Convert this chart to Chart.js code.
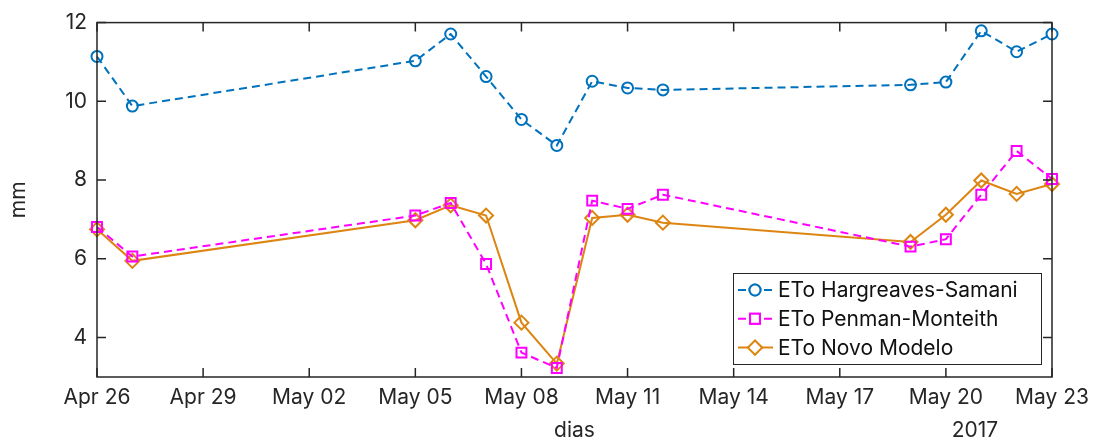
<!DOCTYPE html>
<html>
<head>
<meta charset="utf-8">
<script src="https://cdn.jsdelivr.net/npm/chart.js@4"></script>
<style>
  html, body { margin: 0; padding: 0; background: #fff; }
  #wrap { width: 1099px; height: 439px; }
</style>
</head>
<body>
<div id="wrap"><canvas id="c" width="1099" height="439"></canvas></div>
<script>
// dates of the measurements (2017)
const dias = ['2017-04-26', '2017-04-27', '2017-05-05', '2017-05-06', '2017-05-07', '2017-05-08',
  '2017-05-09', '2017-05-10', '2017-05-11', '2017-05-12', '2017-05-19', '2017-05-20',
  '2017-05-21', '2017-05-22', '2017-05-23'];

const hargreaves = [11.14, 9.88, 11.03, 11.71, 10.63, 9.54, 8.88, 10.51, 10.34, 10.29, 10.42, 10.49, 11.79, 11.26, 11.71];
const penman = [6.81, 6.06, 7.10, 7.42, 5.87, 3.62, 3.23, 7.48, 7.27, 7.63, 6.31, 6.50, 7.63, 8.74, 8.03];
const novo = [6.75, 5.95, 6.98, 7.36, 7.10, 4.38, 3.34, 7.04, 7.12, 6.92, 6.43, 7.12, 7.99, 7.65, 7.90];

const xTickLabels = ['Apr 26', 'Apr 29', 'May 02', 'May 05', 'May 08', 'May 11', 'May 14', 'May 17', 'May 20', 'May 23'];
const yTicks = [4, 6, 8, 10, 12];

const start = Date.UTC(2017, 3, 26);
const dayOf = (s) => (Date.parse(s + 'T00:00:00Z') - start) / 864e5;
const pts = (vals) => vals.map((v, i) => ({ x: dayOf(dias[i]), y: v }));

const AXIS = '#262626';
const FONT = "Inter, 'Liberation Sans', Arial, sans-serif";
const FS = 21;

// MATLAB-like box with inward ticks, legend and the year label
const matlabAxes = {
  id: 'matlabAxes',
  afterDatasetsDraw(chart) {
    const { ctx, chartArea: a, scales: { x, y } } = chart;
    ctx.save();
    ctx.strokeStyle = AXIS;
    ctx.lineWidth = 1.5;
    ctx.strokeRect(a.left, a.top, a.right - a.left, a.bottom - a.top);
    const tl = 9;
    ctx.beginPath();
    x.ticks.forEach((t) => {
      const px = x.getPixelForValue(t.value);
      ctx.moveTo(px, a.bottom); ctx.lineTo(px, a.bottom - tl);
      ctx.moveTo(px, a.top); ctx.lineTo(px, a.top + tl);
    });
    y.ticks.forEach((t) => {
      const py = y.getPixelForValue(t.value);
      ctx.moveTo(a.left, py); ctx.lineTo(a.left + tl, py);
      ctx.moveTo(a.right, py); ctx.lineTo(a.right - tl, py);
    });
    ctx.stroke();

    // year under the last ticks
    ctx.fillStyle = AXIS;
    ctx.font = FS + 'px ' + FONT;
    ctx.textAlign = 'center';
    ctx.textBaseline = 'alphabetic';
    ctx.fillText('2017', a.right - 77, 437);

    // legend
    const bx = 733, by = 273, bw = 308, bh = 91;
    ctx.fillStyle = '#fff';
    ctx.fillRect(bx, by, bw, bh);
    ctx.lineWidth = 1;
    ctx.strokeStyle = AXIS;
    ctx.strokeRect(bx + 0.5, by + 0.5, bw, bh);
    chart.data.datasets.forEach((ds, i) => {
      const cy = 290 + i * 28.8;
      ctx.strokeStyle = ds.borderColor;
      ctx.lineWidth = 2;
      ctx.setLineDash(ds.borderDash || []);
      ctx.beginPath();
      ctx.moveTo(bx + 5, cy); ctx.lineTo(bx + 40, cy);
      ctx.stroke();
      ctx.setLineDash([]);
      ctx.fillStyle = '#fff';
      Chart.helpers.drawPoint(ctx, { pointStyle: ds.pointStyle, radius: ds.pointRadius, borderWidth: 2 }, bx + 22, cy);
      ctx.fill();
      ctx.stroke();
      ctx.fillStyle = '#111';
      ctx.font = FS + 'px ' + FONT;
      ctx.textAlign = 'left';
      ctx.textBaseline = 'middle';
      ctx.fillText(ds.label, bx + 45, cy + 1);
    });
    ctx.restore();
  }
};

new Chart(document.getElementById('c'), {
  type: 'line',
  data: {
    datasets: [
      {
        label: 'ETo Hargreaves-Samani',
        data: pts(hargreaves),
        borderColor: '#0072BD',
        borderDash: [8, 5],
        borderWidth: 2,
        pointStyle: 'circle',
        pointRadius: 5.5,
        pointBorderWidth: 2,
        pointBackgroundColor: 'rgba(0,0,0,0)',
        pointBorderColor: '#0072BD',
        tension: 0,
      },
      {
        label: 'ETo Penman-Monteith',
        data: pts(penman),
        borderColor: '#FF00FF',
        borderDash: [8, 5],
        borderWidth: 2,
        pointStyle: 'rect',
        pointRadius: 7,
        pointBorderWidth: 2,
        pointBackgroundColor: 'rgba(0,0,0,0)',
        pointBorderColor: '#FF00FF',
        tension: 0,
      },
      {
        label: 'ETo Novo Modelo',
        data: pts(novo),
        borderColor: '#DD8511',
        borderWidth: 2,
        pointStyle: 'rectRot',
        pointRadius: 7,
        pointBorderWidth: 2,
        pointBackgroundColor: 'rgba(0,0,0,0)',
        pointBorderColor: '#DD8511',
        tension: 0,
      },
    ],
  },
  options: {
    responsive: false,
    animation: false,
    clip: false,
    layout: { padding: { left: 0, right: 47, top: 19, bottom: 0 } },
    plugins: { legend: { display: false }, tooltip: { enabled: false } },
    scales: {
      x: {
        type: 'linear',
        min: 0,
        max: 27,
        afterFit: (s) => { s.height = 62; },
        afterBuildTicks: (s) => { s.ticks = xTickLabels.map((_, i) => ({ value: i * 3 })); },
        grid: { display: false, drawTicks: false },
        border: { display: false },
        ticks: {
          color: AXIS,
          font: { family: FONT, size: FS },
          padding: 8,
          maxRotation: 0,
          autoSkip: false,
          callback: (v) => xTickLabels[v / 3],
        },
        title: {
          display: true,
          text: 'dias',
          color: AXIS,
          font: { family: FONT, size: FS },
          padding: { top: 0, bottom: -4 },
        },
      },
      y: {
        min: 3,
        max: 12,
        afterFit: (s) => { s.width = 97; },
        afterBuildTicks: (s) => { s.ticks = yTicks.map((v) => ({ value: v })); },
        grid: { display: false, drawTicks: false },
        border: { display: false },
        ticks: {
          color: AXIS,
          font: { family: FONT, size: FS },
          padding: 10,
        },
        title: {
          display: true,
          text: 'mm',
          color: AXIS,
          font: { family: FONT, size: FS },
          padding: { top: 6, bottom: 0 },
        },
      },
    },
  },
  plugins: [matlabAxes],
});
</script>
</body>
</html>
